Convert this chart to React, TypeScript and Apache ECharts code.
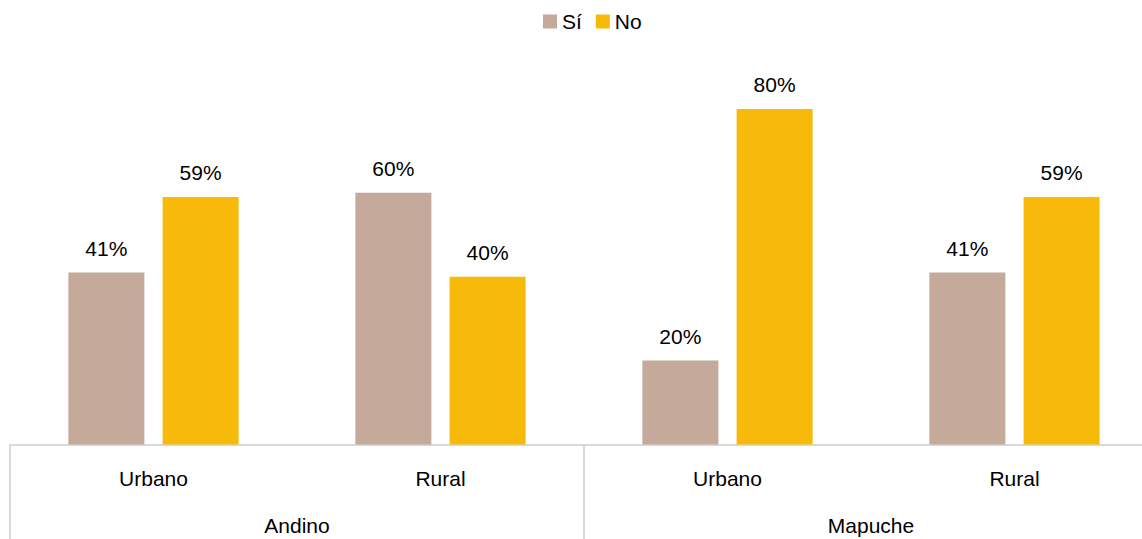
import React, { useEffect, useRef } from "react";
import * as echarts from "echarts";

const categories = ["Urbano", "Rural", "Urbano", "Rural"];
const groups = ["Andino", "Mapuche"];
const siValues = [41, 60, 20, 41];
const noValues = [59, 40, 80, 59];
const seriesNames = ["Sí", "No"];

const FONT = "'Liberation Sans Narrow', 'Arial Narrow', 'Liberation Sans', Arial, sans-serif";
const FS = 21;

export default function App() {
  const ref = useRef<HTMLDivElement>(null);
  useEffect(() => {
    if (!ref.current) return;
    const chart = echarts.init(ref.current, null, { renderer: "svg" });
    const label = {
      show: true,
      position: "top" as const,
      distance: 14,
      formatter: "{c}%",
      color: "#000",
      fontSize: FS,
      fontFamily: FONT,
    };
    chart.setOption({
      animation: false,
      textStyle: { fontFamily: FONT },
      legend: {
        top: 6,
        left: 538,
        itemWidth: 14,
        itemHeight: 14,
        itemGap: 14,
        icon: "rect",
        textStyle: { fontSize: FS, color: "#000", fontFamily: FONT },
        data: seriesNames,
      },
      grid: { left: 10, width: 1148, top: 25, height: 419.5, outerBoundsMode: "none", containLabel: false },
      xAxis: [
        {
          type: "category",
          data: categories,
          position: "bottom",
          axisLine: { show: true, lineStyle: { color: "#d9d9d9", width: 2 } },
          axisTick: { show: false },
          axisLabel: { color: "#000", fontSize: FS, fontFamily: FONT, margin: 23, interval: 0 },
        },
        {
          type: "category",
          data: groups,
          position: "bottom",
          axisLine: { show: false },
          axisTick: { show: true, length: 95, interval: 0, lineStyle: { color: "#d9d9d9", width: 2 } },
          axisLabel: { color: "#000", fontSize: FS, fontFamily: FONT, margin: 70, interval: 0 },
        },
      ],
      yAxis: { type: "value", min: 0, max: 100, show: false, splitLine: { show: false } },
      series: [
        {
          name: seriesNames[0],
          type: "bar",
          xAxisIndex: 0,
          data: siValues,
          barWidth: 76,
          barGap: "24%",
          itemStyle: { color: "#C5A99B" },
          label,
        },
        {
          name: seriesNames[1],
          type: "bar",
          xAxisIndex: 0,
          data: noValues,
          barWidth: 76,
          barGap: "24%",
          itemStyle: { color: "#F8BA0A" },
          label,
        },
      ],
    });
    return () => chart.dispose();
  }, []);
  return (
    <div
      ref={ref}
      style={{ position: "fixed", left: 0, top: 0, width: 1142, height: 539, background: "#fff" }}
    />
  );
}
